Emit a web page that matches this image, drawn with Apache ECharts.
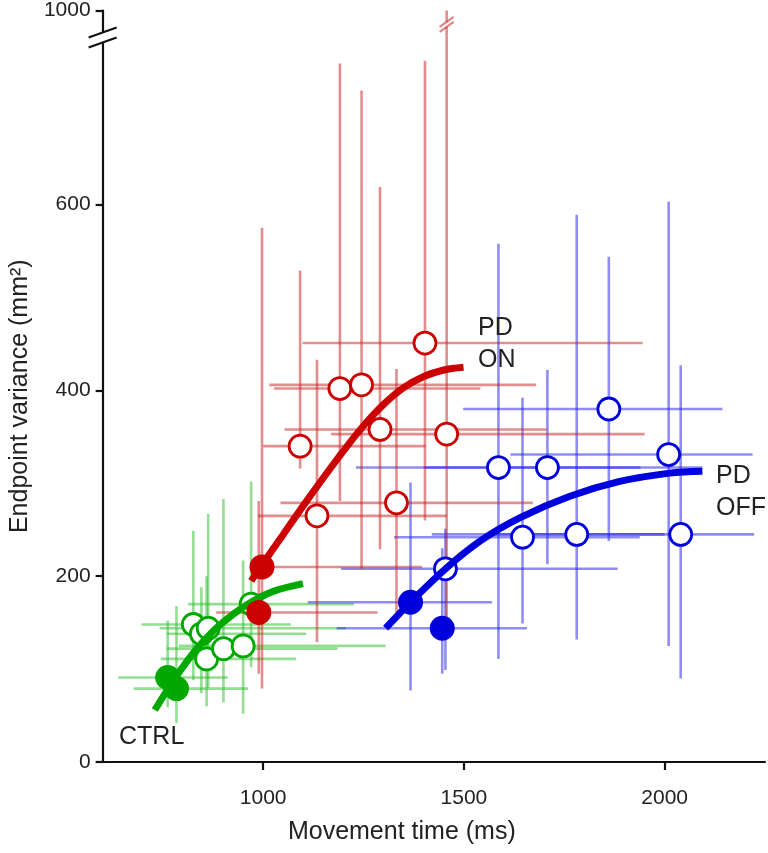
<!DOCTYPE html>
<html><head><meta charset="utf-8">
<script src="https://cdn.jsdelivr.net/npm/echarts@6/dist/echarts.min.js"></script>
<style>html,body{margin:0;padding:0;background:#fff}#c{width:768px;height:853px}</style>
</head><body><div id="c"></div>
<script>
// ---- axis ticks ----
const xTicks = [1000, 1500, 2000];
const yTicks = [0, 200, 400, 600];
const yTopValue = 809;      // top of the drawn (broken) y axis
const yTopLabel = '1000';

// ---- PD ON (red) ----
const onOpenX   = [1092, 1191, 1245, 1291, 1403, 1457, 1134, 1332];
const onOpenY   = [340, 402, 406, 358, 451, 353, 265, 279];
const onOpenXLo = [1000, 1027, 1015, 1053, 1098, 1169, 987, 1043];
const onOpenXHi = [1404, 1541, 1680, 1706, 1945, 1950, 1458, 1672];
const onOpenYLo = [316, 281, 208, 229, 260, 143, 129, 161];
const onOpenYHi = [529, 752, 723, 619, 755, 1000, 433, 423];
const onFillX   = [997, 989];
const onFillY   = [210, 161];
const onFillXLo = [975, 883];
const onFillXHi = [1396, 1285];
const onFillYLo = [79, 95];
const onFillYHi = [575, 281];
const onCurveX  = [970, 1000, 1050, 1100, 1150, 1200, 1250, 1300, 1350, 1400, 1450, 1499];
const onCurveY  = [195, 214, 245, 276, 306, 335, 362, 385, 403, 415, 422, 425];

// ---- PD OFF (blue) ----
const offOpenX   = [1861, 1586, 1708, 2010, 1646, 1781, 2040, 1454];
const offOpenY   = [380, 317, 317, 331, 242, 245, 245, 208];
const offOpenXLo = [1498, 1231, 1400, 1616, 1326, 1420, 1560, 1194];
const offOpenXHi = [2144, 1940, 2094, 2219, 1938, 2000, 2223, 1883];
const offOpenYLo = [238, 111, 213, 125, 149, 132, 90, 99];
const offOpenYHi = [544, 558, 422, 603, 392, 589, 427, 251];
const offFillX   = [1367, 1446];
const offFillY   = [172, 144];
const offFillXLo = [1111, 1183];
const offFillXHi = [1570, 1657];
const offFillYLo = [77, 95];
const offFillYHi = [301, 230];
const offCurveX  = [1305, 1367, 1454, 1541, 1640, 1764, 1888, 2012, 2094];
const offCurveY  = [144, 172, 208, 238, 263, 286, 302, 311, 313];

// ---- CTRL (green) ----
const ctrlOpenX   = [826, 846, 863, 859, 901, 950, 970];
const ctrlOpenY   = [148, 138, 144, 111, 122, 125, 170];
const ctrlOpenXLo = [697, 760, 742, 745, 760, 790, 813];
const ctrlOpenXHi = [1069, 1107, 1206, 1082, 1185, 1305, 1226];
const ctrlOpenYLo = [88, 74, 80, 60, 64, 52, 102];
const ctrlOpenYHi = [249, 188, 267, 200, 283, 217, 302];
const ctrlFillX   = [762, 784];
const ctrlFillY   = [91, 79];
const ctrlFillXLo = [639, 677];
const ctrlFillXHi = [912, 962];
const ctrlFillYLo = [59, 42];
const ctrlFillYHi = [152, 168];
const ctrlCurveX  = [730, 780, 829, 878, 928, 978, 1027, 1099];
const ctrlCurveY  = [56, 90, 119, 142, 160, 174, 184, 192];

// ---- styles ----
const RED = '#cc0000', BLUE = '#0000dd', GREEN = '#00a800';
const RED_BAR = 'rgba(200,30,30,0.5)', BLUE_BAR = 'rgba(30,30,230,0.5)', GREEN_BAR = 'rgba(40,190,40,0.5)';
const FONT = '"Liberation Sans", Arial, Helvetica, sans-serif';

function zip(...arrs) { return arrs[0].map((_, i) => arrs.map(a => a[i])); }

function errSeries(rows, color) {
  return {
    type: 'custom', clip: true, silent: true, z: 1,
    data: rows,
    encode: { x: 0, y: 1 },
    renderItem: function (params, api) {
      const x = api.value(0), y = api.value(1);
      const pL = api.coord([api.value(2), y]), pR = api.coord([api.value(3), y]);
      const pB = api.coord([x, api.value(4)]), pT = api.coord([x, api.value(5)]);
      const st = { stroke: color, lineWidth: 2.6 };
      return { type: 'group', children: [
        { type: 'line', shape: { x1: pL[0], y1: pL[1], x2: pR[0], y2: pR[1] }, style: st },
        { type: 'line', shape: { x1: pB[0], y1: pB[1], x2: pT[0], y2: pT[1] }, style: st }
      ]};
    }
  };
}
function openSeries(xs, ys, color) {
  return { type: 'scatter', z: 3, symbol: 'circle', symbolSize: 22, data: zip(xs, ys),
    itemStyle: { color: '#fff', borderColor: color, borderWidth: 2.8, opacity: 1 } };
}
function fillSeries(xs, ys, color) {
  return { type: 'scatter', z: 5, symbol: 'circle', symbolSize: 25, data: zip(xs, ys),
    itemStyle: { color: color, opacity: 1 } };
}
function curveSeries(xs, ys, color) {
  return { type: 'line', z: 4, smooth: 0.35, showSymbol: false, symbol: 'none',
    data: zip(xs, ys), lineStyle: { color: color, width: 7, cap: 'butt' } };
}

const chart = echarts.init(document.getElementById('c'), null, { renderer: 'canvas' });
const yLabelVals = yTicks.concat([yTopValue]);
chart.setOption({
  animation: false,
  backgroundColor: '#fff',
  grid: { left: 101, right: 3, top: 8, bottom: 91 },
  xAxis: {
    type: 'value', min: 600, max: 2250,
    name: 'Movement time (ms)', nameLocation: 'middle', nameGap: 58,
    nameTextStyle: { fontSize: 25, color: '#222', fontFamily: FONT, padding: [0, 64, 0, 0] },
    axisLine: { lineStyle: { color: '#111', width: 2.2 } },
    axisTick: { customValues: xTicks, length: 8, lineStyle: { color: '#111', width: 2.2 } },
    axisLabel: { customValues: xTicks, fontSize: 21, color: '#222', fontFamily: FONT, margin: 26,
      formatter: v => String(v) },
    splitLine: { show: false }
  },
  yAxis: {
    type: 'value', min: 0, max: yTopValue,
    name: 'Endpoint variance (mm²)', nameLocation: 'middle', nameGap: 66,
    nameTextStyle: { fontSize: 25, color: '#222', fontFamily: FONT, padding: [0, 20, 0, 0] },
    axisLine: { lineStyle: { color: '#111', width: 2.2 } },
    axisTick: { customValues: yLabelVals, length: 7, lineStyle: { color: '#111', width: 2.2 } },
    axisLabel: { customValues: yLabelVals, fontSize: 21, color: '#222', fontFamily: FONT, margin: 12,
      formatter: v => (v === yTopValue ? yTopLabel : String(v)) },
    splitLine: { show: false }
  },
  series: [
    errSeries(zip(ctrlOpenX, ctrlOpenY, ctrlOpenXLo, ctrlOpenXHi, ctrlOpenYLo, ctrlOpenYHi), GREEN_BAR),
    errSeries(zip(ctrlFillX, ctrlFillY, ctrlFillXLo, ctrlFillXHi, ctrlFillYLo, ctrlFillYHi), GREEN_BAR),
    errSeries(zip(offOpenX, offOpenY, offOpenXLo, offOpenXHi, offOpenYLo, offOpenYHi), BLUE_BAR),
    errSeries(zip(offFillX, offFillY, offFillXLo, offFillXHi, offFillYLo, offFillYHi), BLUE_BAR),
    errSeries(zip(onOpenX, onOpenY, onOpenXLo, onOpenXHi, onOpenYLo, onOpenYHi), RED_BAR),
    errSeries(zip(onFillX, onFillY, onFillXLo, onFillXHi, onFillYLo, onFillYHi), RED_BAR),
    openSeries(ctrlOpenX, ctrlOpenY, GREEN),
    openSeries(onOpenX, onOpenY, RED),
    openSeries(offOpenX, offOpenY, BLUE),
    curveSeries(ctrlCurveX, ctrlCurveY, GREEN),
    curveSeries(onCurveX, onCurveY, RED),
    curveSeries(offCurveX, offCurveY, BLUE),
    fillSeries(ctrlFillX, ctrlFillY, GREEN),
    fillSeries(onFillX, onFillY, RED),
    fillSeries(offFillX, offFillY, BLUE)
  ]
});

// ---- annotations & axis-break marks ----
function px(v) { return chart.convertToPixel({ gridIndex: 0 }, v); }
function breakMark(c, halfW, barColor, lw, gap) {
  const dy = 5;
  return [
    { type: 'rect', shape: { x: c[0] - 4, y: c[1] - gap / 2, width: 8, height: gap }, style: { fill: '#fff' }, z: 20 },
    { type: 'line', shape: { x1: c[0] - halfW, y1: c[1] - gap / 2 + dy, x2: c[0] + halfW, y2: c[1] - gap / 2 - dy }, style: { stroke: barColor, lineWidth: lw }, z: 21 },
    { type: 'line', shape: { x1: c[0] - halfW, y1: c[1] + gap / 2 + dy, x2: c[0] + halfW, y2: c[1] + gap / 2 - dy }, style: { stroke: barColor, lineWidth: lw }, z: 21 }
  ];
}
const axisBreak = px([600, 780]);
const barBreak = px([onOpenX[5], 794]);
const txt = (t, x, y) => ({ type: 'text', x: x, y: y, z: 30,
  style: { text: t, fontSize: 25, fill: '#222', fontFamily: FONT, lineHeight: 32 } });
chart.setOption({
  graphic: [].concat(
    breakMark(axisBreak, 14, '#111', 2.2, 10),
    breakMark(barBreak, 7, 'rgba(200,30,30,0.55)', 2.2, 5),
    [txt('PD\nON', 478, 312), txt('PD\nOFF', 716, 460), txt('CTRL', 119, 721)]
  )
});
</script></body></html>
